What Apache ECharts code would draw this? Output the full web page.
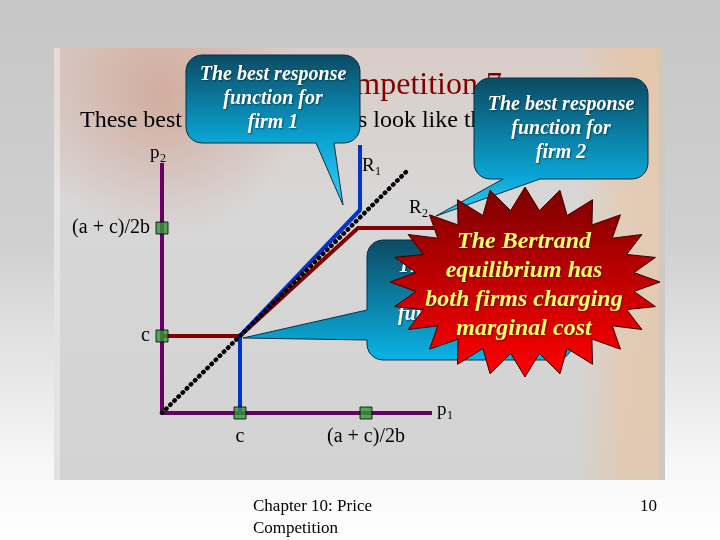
<!DOCTYPE html>
<html><head><meta charset="utf-8">
<script src="https://cdn.jsdelivr.net/npm/echarts@6/dist/echarts.min.js"></script>
<style>html,body{margin:0;padding:0;background:#fff}#c{width:720px;height:540px}</style>
</head><body><div id="c"></div>
<script>
// ---- data ----
const tickValuesX = [78, 204];
const tickLabelsX = ['c', '(a + c)/2b'];
const tickValuesY = [77, 185];
const tickLabelsY = ['c', '(a + c)/2b'];
const axisP1 = [[0, 0], [270, 0]];
const axisP2 = [[0, 0], [0, 250]];
const r1Points = [[78, 0], [78, 77], [198, 203], [198, 268]];
const r2Points = [[0, 77], [78, 77], [196, 185], [290, 185]];
const diagonal = [[0, 0], [245, 242]];
const markerPoints = [[0, 185], [0, 77], [78, 0], [204, 0]];
const titleText = 'Bertrand Competition 7';
const subtitleText = 'These best response functions look like this';
const callout1Text = 'The best response\nfunction for\nfirm 1';
const callout2Text = 'The best response\nfunction for\nfirm 2';
const callout3Lines = ['The equilibrium is', 'where the best response', 'functions intersect'];
const starText = 'The Bertrand\nequilibrium has\nboth firms charging\nmarginal cost';
const footerText = 'Chapter 10: Price\nCompetition';
const pageNumber = '10';

const serif = '"Liberation Serif", "Times New Roman", serif';
const chart = echarts.init(document.getElementById('c'), null, {renderer: 'canvas'});

function arcPts(cx, cy, r, a0, a1) {
  const pts = [], n = 6;
  for (let i = 0; i <= n; i++) {
    const a = a0 + (a1 - a0) * i / n;
    pts.push([cx + r * Math.cos(a), cy + r * Math.sin(a)]);
  }
  return pts;
}
function calloutPoints(x, y, w, h, r, tail) {
  const R = x + w, B = y + h, P = Math.PI;
  let pts = [];
  pts = pts.concat(arcPts(R - r, y + r, r, -P / 2, 0));
  pts = pts.concat(arcPts(R - r, B - r, r, 0, P / 2));
  if (tail.edge === 'bottom') pts.push([tail.b, B], [tail.tx, tail.ty], [tail.a, B]);
  pts = pts.concat(arcPts(x + r, B - r, r, P / 2, P));
  if (tail.edge === 'left') pts.push([x, tail.b], [tail.tx, tail.ty], [x, tail.a]);
  pts = pts.concat(arcPts(x + r, y + r, r, P, 1.5 * P));
  return pts;
}
function calloutFill(stopRect) {
  return {type: 'linear', x: 0, y: 0, x2: 0, y2: 1, colorStops: [
    {offset: 0, color: '#0c4a62'}, {offset: stopRect, color: '#0aa6d6'}, {offset: 1, color: '#38cdf6'}]};
}
function starPoints(cx, cy, rxo, ryo, rxi, ryi, n) {
  const pts = [];
  for (let i = 0; i < 2 * n; i++) {
    const a = -Math.PI / 2 + i * Math.PI / n;
    const o = i % 2 === 0;
    pts.push([cx + Math.cos(a) * (o ? rxo : rxi), cy + Math.sin(a) * (o ? ryo : ryi)]);
  }
  return pts;
}
const calloutText = (text, x, y, align, z) => ({
  type: 'text', z: z || 101,
  style: {text, x, y, fill: '#ffffff', fontSize: 20, fontStyle: 'italic', fontWeight: 'bold',
    fontFamily: serif, textAlign: align || 'center', textVerticalAlign: 'middle', lineHeight: 24,
    textShadowColor: 'rgba(0,0,0,0.45)', textShadowBlur: 2, textShadowOffsetX: 1, textShadowOffsetY: 1}
});
const plainText = (text, x, y, size, extra) => ({
  type: 'text', z: 5,
  style: Object.assign({text, x, y, fill: '#000', fontSize: size, fontFamily: serif,
    textAlign: 'left', textVerticalAlign: 'middle'}, extra || {})
});

const graphics = [
  {type: 'rect', z: -20, shape: {x: 0, y: 0, width: 720, height: 540},
    style: {fill: {type: 'linear', x: 0, y: 0, x2: 0, y2: 1, colorStops: [
      {offset: 0, color: '#c6c6c6'}, {offset: 0.45, color: '#d0d0d0'},
      {offset: 0.86, color: '#f7f7f7'}, {offset: 1, color: '#ffffff'}]}}},
  {type: 'rect', z: -19, shape: {x: 54, y: 48, width: 611, height: 432},
    style: {fill: {type: 'linear', x: 0, y: 0, x2: 0, y2: 1, colorStops: [
      {offset: 0, color: '#d8cdc8'}, {offset: 0.35, color: '#d8d7d7'}, {offset: 1, color: '#d3d3d3'}]}}},
  {type: 'rect', z: -18, shape: {x: 54, y: 48, width: 360, height: 190},
    style: {fill: {type: 'radial', x: 0.3, y: 0.25, r: 0.75, colorStops: [
      {offset: 0, color: 'rgba(200,115,85,0.38)'}, {offset: 1, color: 'rgba(200,115,85,0)'}]}}},
  {type: 'rect', z: -18, shape: {x: 575, y: 48, width: 90, height: 432},
    style: {fill: {type: 'linear', x: 0, y: 0, x2: 1, y2: 0, colorStops: [
      {offset: 0, color: 'rgba(240,190,140,0)'}, {offset: 0.5, color: 'rgba(240,190,140,0.4)'},
      {offset: 1, color: 'rgba(240,190,140,0.5)'}]}}},
  {type: 'rect', z: -18, shape: {x: 54, y: 48, width: 6, height: 432}, style: {fill: 'rgba(255,255,255,0.35)'}},
  {type: 'rect', z: -18, shape: {x: 659, y: 48, width: 6, height: 432}, style: {fill: 'rgba(200,200,200,0.8)'}},
  plainText(titleText, 198, 86, 32, {fill: '#800000'}),
  plainText(subtitleText, 80, 121, 24),
  plainText('p', 150, 153, 19), plainText('2', 160, 159, 12),
  plainText('p', 437, 410, 19), plainText('1', 447, 416, 12),
  plainText('R', 362, 166, 19), plainText('1', 375, 172, 12),
  plainText('R', 409, 208, 19), plainText('2', 422, 214, 12),
  plainText(footerText, 253, 518, 17, {lineHeight: 22}),
  plainText(pageNumber, 640, 507, 17),
  // callout 3 (behind star)
  {type: 'polygon', z: 90, shape: {points: calloutPoints(367, 240, 205, 120, 16, {edge: 'left', a: 310, b: 340, tx: 243, ty: 338})},
    style: {fill: {type: 'linear', x: 0, y: 0, x2: 0, y2: 1, colorStops: [
      {offset: 0, color: '#0c4a62'}, {offset: 1, color: '#0ab4e6'}]}, stroke: '#0a3040', lineWidth: 1}},
  calloutText(callout3Lines[0], 398, 267, 'left', 91),
  calloutText(callout3Lines[1], 425, 291, 'left', 91),
  calloutText(callout3Lines[2], 398, 315, 'left', 91),
  // callout 1
  {type: 'polygon', z: 100, shape: {points: calloutPoints(186, 55, 174, 88, 16, {edge: 'bottom', a: 316, b: 334, tx: 343, ty: 205})},
    style: {fill: calloutFill(0.58), stroke: '#0a3040', lineWidth: 1}},
  calloutText(callout1Text, 273, 99),
  // callout 2
  {type: 'polygon', z: 100, shape: {points: calloutPoints(474, 78, 174, 101, 16, {edge: 'bottom', a: 503, b: 540, tx: 436, ty: 216})},
    style: {fill: calloutFill(0.72), stroke: '#0a3040', lineWidth: 1}},
  calloutText(callout2Text, 561, 129),
  // star burst
  {type: 'polygon', z: 110, shape: {points: starPoints(525, 282, 135, 95, 110, 72, 24)},
    style: {fill: {type: 'linear', x: 0, y: 0, x2: 0, y2: 1, colorStops: [
      {offset: 0, color: '#7a0000'}, {offset: 0.55, color: '#c80000'}, {offset: 1, color: '#ff0000'}]},
      stroke: '#3a0000', lineWidth: 1}},
  {type: 'text', z: 111, style: {text: starText, x: 524, y: 285, fill: '#ffff66', fontSize: 24,
    fontStyle: 'italic', fontWeight: 'bold', fontFamily: serif, textAlign: 'center',
    textVerticalAlign: 'middle', lineHeight: 29,
    textShadowColor: 'rgba(60,0,0,0.6)', textShadowBlur: 2, textShadowOffsetX: 1, textShadowOffsetY: 1}}
];

const option = {
  animation: false,
  backgroundColor: 'transparent',
  grid: {left: 162, right: 258, top: 143, bottom: 127},
  xAxis: {
    type: 'value', min: 0, max: 300,
    axisLine: {show: false}, axisTick: {show: false}, splitLine: {show: false},
    axisLabel: {customValues: tickValuesX, formatter: v => tickLabelsX[tickValuesX.indexOf(v)],
      color: '#000', fontSize: 20, fontFamily: serif, margin: 14}
  },
  yAxis: {
    type: 'value', min: 0, max: 270,
    axisLine: {show: false}, axisTick: {show: false}, splitLine: {show: false},
    axisLabel: {customValues: tickValuesY, formatter: v => tickLabelsY[tickValuesY.indexOf(v)],
      color: '#000', fontSize: 20, fontFamily: serif, margin: 12}
  },
  series: [
    {type: 'line', data: axisP2, symbol: 'none', z: 2, lineStyle: {color: '#660066', width: 4}},
    {type: 'line', data: axisP1, symbol: 'none', z: 2, lineStyle: {color: '#660066', width: 4}},
    {name: 'R2', type: 'line', data: r2Points, symbol: 'none', z: 3, clip: false,
      lineStyle: {color: '#800000', width: 4}},
    {name: 'R1', type: 'line', data: r1Points, symbol: 'none', z: 3, clip: false,
      lineStyle: {color: '#0033cc', width: 4}},
    {type: 'line', data: diagonal, symbol: 'none', z: 4,
      lineStyle: {color: '#000', width: 4.5, type: [0.5, 5.3], cap: 'round'}},
    {type: 'scatter', data: markerPoints, symbol: 'rect', symbolSize: 12, z: 6,
      itemStyle: {color: '#339933', borderColor: '#000', borderWidth: 1}}
  ],
  graphic: graphics
};
chart.setOption(option);
</script>
</body></html>
